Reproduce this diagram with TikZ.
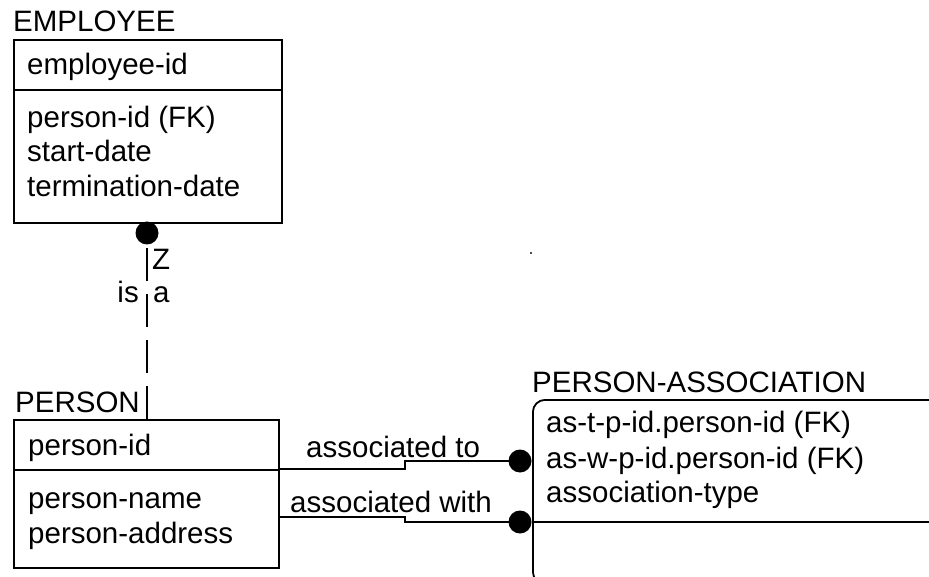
\documentclass[tikz,border=0pt]{standalone}
\usepackage{fontspec}
\setmainfont{Liberation Sans}
\begin{document}
\begin{tikzpicture}[x=1pt,y=-1pt,
  er/.style={line width=1.8pt,draw=black},
  ent/.style={er,rectangle,inner sep=0pt,anchor=north west},
  txt/.style={anchor=base west,inner sep=0pt,font=\fontsize{29.5}{34}\selectfont},
  txte/.style={anchor=base east,inner sep=0pt,font=\fontsize{29.5}{34}\selectfont},
  bigdot/.style={circle,fill=black,inner sep=0pt,minimum size=23pt},
  rel/.style={line width=1.8pt,draw=black}
]
\useasboundingbox (0,0) rectangle (929,577);
\clip (0,0) rectangle (929,577);

% EMPLOYEE
\node[txt] (empT) at (13,32) {EMPLOYEE};
\node[ent,minimum width=268pt,minimum height=183pt] (emp) at (13,39) {};
\coordinate (empDl) at (13,90);
\draw[er] (empDl) -- (empDl -| emp.east);
\node[txt] (e1) at (27,75) {employee-id};
\node[txt] (e2) at (27,128) {person-id (FK)};
\node[txt] (e3) at (27,162) {start-date};
\node[txt] (e4) at (27,197) {termination-date};

% PERSON
\node[txt] (perT) at (15,412) {PERSON};
\node[ent,minimum width=265pt,minimum height=148pt] (per) at (13,419) {};
\coordinate (perDl) at (13,470);
\draw[er] (perDl) -- (perDl -| per.east);
\node[txt] (p1) at (28,455) {person-id};
\node[txt] (p2) at (28,508) {person-name};
\node[txt] (p3) at (28,543) {person-address};

% PERSON-ASSOCIATION
\node[txt] (paT) at (532,392) {PERSON-ASSOCIATION};
\node[ent,rounded corners=12pt,minimum width=408pt,minimum height=184pt] (pa) at (532,399) {};
\coordinate (paDl) at (532,522);
\draw[er] (paDl) -- (paDl -| pa.east);
\node[txt] (a1) at (546,432) {as-t-p-id.person-id (FK)};
\node[txt] (a2) at (546,468) {as-w-p-id.person-id (FK)};
\node[txt] (a3) at (546,502) {association-type};

% is a relationship
\node[bigdot] (isadot) at (147,233) {};
\coordinate (perTop) at (147,419);
\draw[rel,dash pattern=on 33pt off 13pt] (perTop) -- (isadot.south);
\node[txt] (zlab) at (152,270) {Z};
\node[txte] (islab) at (139,302) {is};
\node[txt] (alab) at (153,302) {a};

% associated to
\node[bigdot] (dotA) at (520,461) {};
\coordinate (sA1) at (278,469);
\coordinate (sA2) at (405,469);
\coordinate (sA3) at (405,461);
\draw[rel] (sA1) -- (sA2) -- (sA3) -- (dotA.center);
\node[txt] (labA) at (306,457) {associated to};

% associated with
\node[bigdot] (dotB) at (520,522) {};
\coordinate (sB1) at (278,517);
\coordinate (sB2) at (405,517);
\coordinate (sB3) at (405,522);
\draw[rel] (sB1) -- (sB2) -- (sB3) -- (dotB.center);
\node[txt] (labB) at (290,512) {associated with};

% stray pixel
\fill[black!70] (530,252) rectangle (532,254);
\end{tikzpicture}
\end{document}
